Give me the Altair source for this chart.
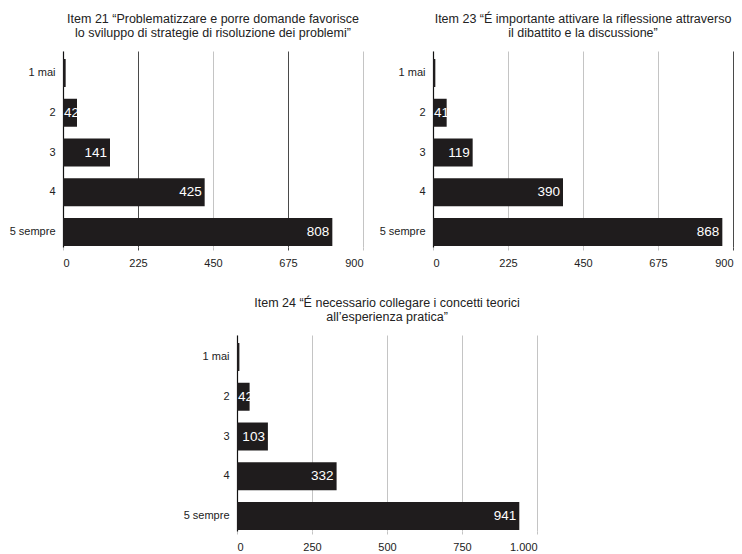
import altair as alt
import pandas as pd

# Response scale shared by the three survey items
categories = ["1 mai", "2", "3", "4", "5 sempre"]

item21_title = ["Item 21 \u201cProblematizzare e porre domande favorisce",
                "lo sviluppo di strategie di risoluzione dei problemi\u201d"]
item21_counts = [8, 42, 141, 425, 808]

item23_title = ["Item 23 \u201c\u00c9 importante attivare la riflessione attraverso",
                "il dibattito e la discussione\u201d"]
item23_counts = [7, 41, 119, 390, 868]

item24_title = ["Item 24 \u201c\u00c9 necessario collegare i concetti teorici",
                "all\u2019esperienza pratica\u201d"]
item24_counts = [8, 42, 103, 332, 941]

FONT = "Liberation Sans"
BAR = "#1f1c1d"


def panel(title, counts, xmax, ticks, dark_ticks):
    df = pd.DataFrame({"cat": categories, "n": counts})
    test = " || ".join(f"datum.value == {t}" for t in dark_ticks) or "false"
    line_color = {"condition": {"test": test, "value": "#4a4a4a"}, "value": "#c4c4c4"}

    x = alt.X(
        "n:Q",
        scale=alt.Scale(domain=[0, xmax], nice=False),
        axis=alt.Axis(
            title=None, values=ticks, domain=False, grid=True,
            gridColor=line_color, gridWidth=1,
            ticks=True, tickSize=3, tickColor=line_color,
            labelPadding=7, labelFont=FONT, labelFontSize=11, labelColor="#222",
            labelExpr="replace(format(datum.value, ','), ',', '.')",
        ),
    )
    y = alt.Y(
        "cat:N", sort=categories,
        scale=alt.Scale(paddingInner=0.296, paddingOuter=0.113, align=0.89),
        axis=alt.Axis(
            title=None, domain=True, domainColor="#111", domainWidth=1.2,
            ticks=False, grid=False, labelPadding=8,
            labelFont=FONT, labelFontSize=11, labelColor="#222",
        ),
    )
    base = alt.Chart(df)
    bars = base.mark_bar(color=BAR).encode(x=x, y=y)
    big = base.transform_filter("datum.n >= 100").mark_text(
        align="right", baseline="middle", dx=-3, color="white",
        font=FONT, fontSize=13.5,
    ).encode(x="n:Q", y=alt.Y("cat:N", sort=categories), text="n:Q")
    small = base.transform_filter("datum.n >= 20 && datum.n < 100").mark_text(
        align="left", baseline="middle", dx=1, color="white",
        font=FONT, fontSize=13.5,
    ).encode(x=alt.datum(0), y=alt.Y("cat:N", sort=categories), text="n:Q")
    return alt.layer(bars, big, small).properties(
        width=300, height=196,
        title=alt.TitleParams(
            text=title, font=FONT, fontSize=12.5, fontWeight="normal",
            color="#222", anchor="middle", frame="group", offset=12,
            lineHeight=13.5,
        ),
    )


# invisible spacer that pushes the third panel toward the middle
spacer = alt.Chart(pd.DataFrame({"a": [0]})).mark_point(opacity=0).encode(
    x=alt.value(0), y=alt.value(0)
).properties(width=120, height=1)

top = alt.hconcat(
    panel(item21_title, item21_counts, 900, [0, 225, 450, 675, 900], [225, 675]),
    panel(item23_title, item23_counts, 900, [0, 225, 450, 675, 900], [900]),
    spacing=15,
)
bottom = alt.hconcat(
    spacer,
    panel(item24_title, item24_counts, 1000, [0, 250, 500, 750, 1000], []),
    spacing=0,
)

chart = alt.vconcat(top, bottom, spacing=29).configure_view(
    stroke=None
).properties(
    padding={"left": 9, "top": 13, "right": 0, "bottom": 0}
)

chart.save("out.html", embed_options={"renderer": "svg", "actions": False})
